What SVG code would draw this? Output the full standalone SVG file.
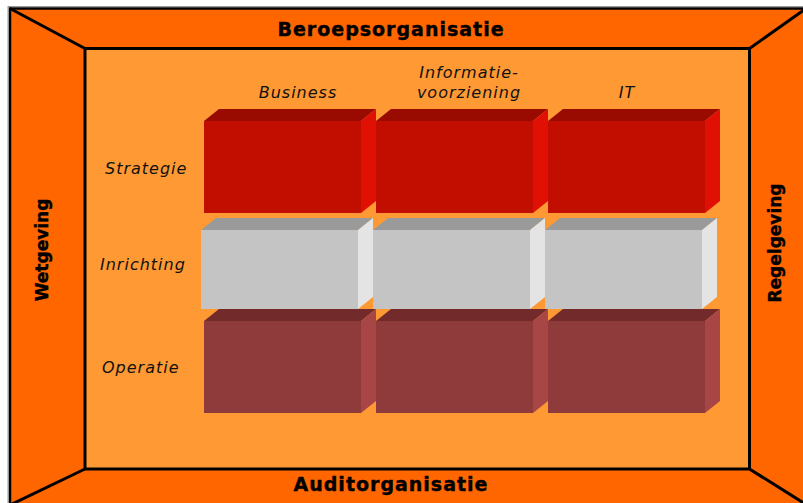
<svg xmlns="http://www.w3.org/2000/svg" width="803" height="503" viewBox="0 0 803 503">
<style>
.edge{stroke:#000;stroke-width:3;fill:none}
.ttl{font-family:"DejaVu Sans",Verdana,sans-serif;font-weight:bold;font-size:19px;fill:#000;stroke:#000;stroke-width:0.4;letter-spacing:1px;text-anchor:middle}
.side{font-family:"DejaVu Sans",Verdana,sans-serif;font-weight:bold;font-size:17px;fill:#000;stroke:#000;stroke-width:0.4;text-anchor:middle}
.lbl{font-family:"DejaVu Sans",Verdana,sans-serif;font-style:italic;font-size:16px;fill:#111;letter-spacing:1px}
.mid{text-anchor:middle}
</style>
<defs>
<g id="red">
<rect x="0" y="12" width="157" height="92" fill="#C10E00"/>
<polygon points="0,12 15,0 172,0 157,12" fill="#990A00"/>
<polygon points="157,12 172,0 172,92 157,104" fill="#E01005"/>
</g>
<g id="gray">
<rect x="0" y="12" width="157" height="79" fill="#C4C4C4"/>
<polygon points="0,12 15,0 172,0 157,12" fill="#9A9A9A"/>
<polygon points="157,12 172,0 172,79 157,91" fill="#E4E4E4"/>
</g>
<g id="brown">
<rect x="0" y="12" width="157" height="92" fill="#8F3B3B"/>
<polygon points="0,12 15,0 172,0 157,12" fill="#722A2B"/>
<polygon points="157,12 172,0 172,92 157,104" fill="#A84646"/>
</g>
</defs>
<rect width="803" height="503" fill="#fff"/>
<g id="frame">
<rect x="8" y="6.5" width="810" height="510" fill="none" stroke="#9a9a9a" stroke-width="1"/>
<rect x="10" y="8.5" width="806" height="506" fill="#FF6600" stroke="#000" stroke-width="2.5"/>
<rect x="85" y="48.5" width="664.5" height="420.5" fill="#FF9933" stroke="#000" stroke-width="3"/>
<g class="edge">
<line x1="10" y1="8.5" x2="85" y2="48.5"/>
<line x1="749.5" y1="48.5" x2="806" y2="8.5"/>
<line x1="85" y1="469" x2="10" y2="505"/>
<line x1="749.5" y1="469" x2="810" y2="507"/>
</g>
</g>
<g id="frame-labels">
<text class="ttl" x="391" y="36">Beroepsorganisatie</text>
<text class="ttl" x="391" y="491">Auditorganisatie</text>
<text class="side" transform="translate(48,250) rotate(-90)">Wetgeving</text>
<text class="side" transform="translate(781,243) rotate(-90)">Regelgeving</text>
</g>
<g id="column-labels">
<text class="lbl mid" x="298" y="98">Business</text>
<text class="lbl mid" x="469" y="78">Informatie-</text>
<text class="lbl mid" x="469" y="98">voorziening</text>
<text class="lbl mid" x="627" y="98">IT</text>
</g>
<g id="row-labels">
<text class="lbl" x="105" y="174">Strategie</text>
<text class="lbl" x="100" y="270">Inrichting</text>
<text class="lbl" x="102" y="373">Operatie</text>
</g>
<g id="strategie-business"><use href="#red" transform="translate(204,109)"/></g>
<g id="strategie-informatie"><use href="#red" transform="translate(376,109)"/></g>
<g id="strategie-it"><use href="#red" transform="translate(548,109)"/></g>
<g id="inrichting-business"><use href="#gray" transform="translate(201,218)"/></g>
<g id="inrichting-informatie"><use href="#gray" transform="translate(373,218)"/></g>
<g id="inrichting-it"><use href="#gray" transform="translate(545,218)"/></g>
<g id="operatie-business"><use href="#brown" transform="translate(204,309)"/></g>
<g id="operatie-informatie"><use href="#brown" transform="translate(376,309)"/></g>
<g id="operatie-it"><use href="#brown" transform="translate(548,309)"/></g>
<g id="connectors"/>
</svg>
